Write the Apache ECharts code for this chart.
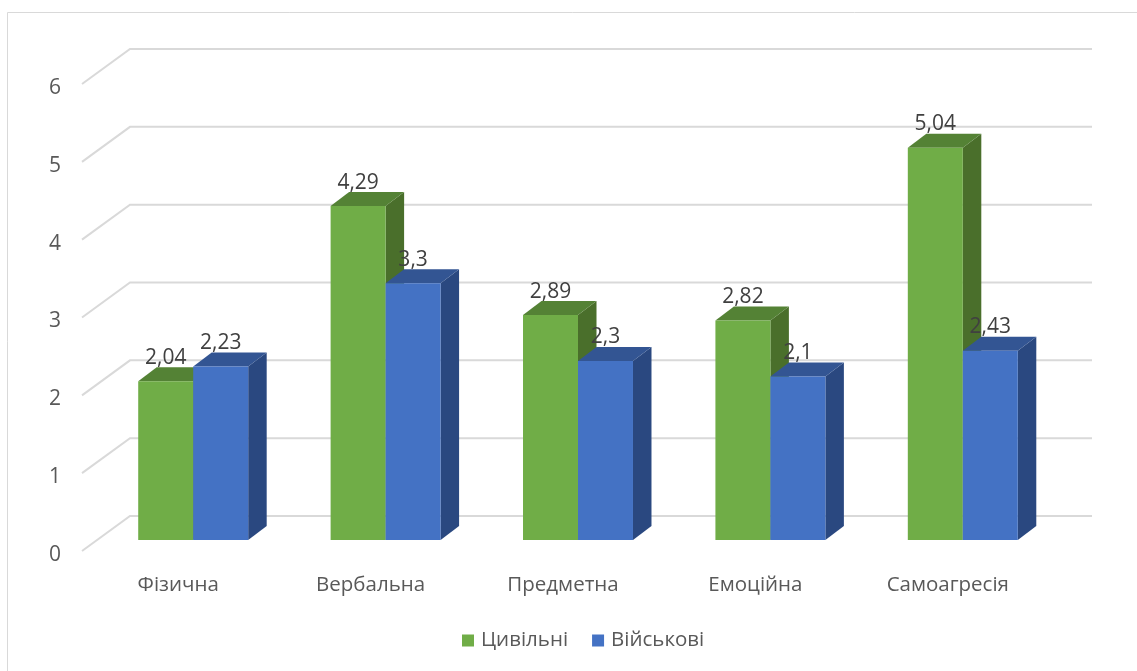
<!DOCTYPE html>
<html>
<head>
<meta charset="utf-8">
<style>html,body{margin:0;padding:0;background:#fff}#chart{width:1137px;height:671px}</style>
<script src="https://cdn.jsdelivr.net/npm/echarts@6/dist/echarts.min.js"></script>
</head>
<body>
<div id="chart"></div>
<script>
// Aggression scale scores for two groups
const categories = ['Фізична', 'Вербальна', 'Предметна', 'Емоційна', 'Самоагресія'];
const civilians = [2.04, 4.29, 2.89, 2.82, 5.04];
const military = [2.23, 3.3, 2.3, 2.1, 2.43];
const yTicks = [0, 1, 2, 3, 4, 5, 6];

const FONT = '"Open Sans", sans-serif';
const WALL = { dx: 48, dy: -35 };      // floor depth of the box
const BAR_PLANE = { dx: 15, dy: -11 }; // bars stand part way into the floor
const BAR_DEPTH = { dx: 18.5, dy: -14 };
const BAR_SHARE = 0.2858;              // bar width as a share of the category band

function gridLine(params, api) {
  const pt = api.coord([0, api.value(1)]);
  const cs = params.coordSys;
  const y = pt[1];
  return {
    type: 'polyline',
    shape: { points: [
      [cs.x, y],
      [cs.x + WALL.dx, y + WALL.dy],
      [cs.x + cs.width + WALL.dx, y + WALL.dy]
    ] },
    style: { stroke: '#d9d9d9', lineWidth: 2, fill: null }
  };
}

function box(side, colors) {
  return function (params, api) {
    const idx = api.value(0);
    const val = api.value(1);
    const top = api.coord([idx, val]);
    const base = api.coord([idx, 0]);
    const w = api.size([1, 0])[0] * BAR_SHARE;
    const x0 = top[0] + BAR_PLANE.dx + (side < 0 ? -w : 0);
    const x1 = x0 + w;
    const yT = top[1] + BAR_PLANE.dy;
    const yB = base[1] + BAR_PLANE.dy;
    const d = BAR_DEPTH;
    return {
      type: 'group',
      children: [
        { type: 'polygon',
          shape: { points: [[x1, yB], [x1 + d.dx, yB + d.dy], [x1 + d.dx, yT + d.dy], [x1, yT]] },
          style: { fill: colors.side } },
        { type: 'polygon',
          shape: { points: [[x0, yT], [x0 + d.dx, yT + d.dy], [x1 + d.dx, yT + d.dy], [x1, yT]] },
          style: { fill: colors.top } },
        { type: 'rect',
          shape: { x: x0, y: yT, width: w, height: yB - yT },
          style: { fill: colors.front } },
        { type: 'text',
          z2: 10,
          style: {
            x: (x0 + x1) / 2,
            y: yT - 23.5,
            text: String(val).replace('.', ','),
            fill: '#404040',
            font: '21px ' + FONT,
            align: 'center',
            verticalAlign: 'middle'
          } }
      ]
    };
  };
}

const green = { front: '#70ad47', top: '#548235', side: '#4a6f2b' };
const blue = { front: '#4472c4', top: '#335593', side: '#2a4880' };

const chart = echarts.init(document.getElementById('chart'), null, { renderer: 'canvas' });
chart.setOption({
  animation: false,
  backgroundColor: '#fff',
  textStyle: { fontFamily: FONT },
  grid: { left: 82, top: 84, width: 962, height: 467 },
  xAxis: {
    type: 'category',
    data: categories,
    axisLine: { show: false },
    axisTick: { show: false },
    axisLabel: { color: '#595959', fontSize: 20.5, margin: 24, fontFamily: FONT }
  },
  yAxis: {
    type: 'value',
    min: 0, max: 6, interval: 1,
    splitLine: { show: false },
    axisLine: { show: false },
    axisTick: { show: false },
    axisLabel: { color: '#595959', fontSize: 21, margin: 21, fontFamily: FONT, verticalAlign: 'top', lineHeight: 8 }
  },
  legend: {
    data: ['Цивільні', 'Військові'],
    left: 462, top: 630, padding: 0,
    icon: 'rect',
    itemWidth: 12, itemHeight: 12, itemGap: 24,
    textStyle: { color: '#595959', fontSize: 20.5, fontFamily: FONT, padding: [0, 0, 0, 2] }
  },
  graphic: [
    { type: 'line', silent: true, shape: { x1: 7.5, y1: 12.5, x2: 1137, y2: 12.5 }, style: { stroke: '#d9d9d9', lineWidth: 1 } },
    { type: 'line', silent: true, shape: { x1: 7.5, y1: 12.5, x2: 7.5, y2: 671 }, style: { stroke: '#d9d9d9', lineWidth: 1 } }
  ],
  series: [
    { type: 'custom', name: 'gridlines', renderItem: gridLine, clip: false, silent: true, z: 1,
      data: yTicks.map(v => [0, v]), encode: { x: 0, y: 1 } },
    { type: 'custom', name: 'Цивільні', renderItem: box(-1, green), clip: false, silent: true, z: 2,
      itemStyle: { color: green.front },
      data: civilians.map((v, i) => [i, v]), encode: { x: 0, y: 1 } },
    { type: 'custom', name: 'Військові', renderItem: box(1, blue), clip: false, silent: true, z: 3,
      itemStyle: { color: blue.front },
      data: military.map((v, i) => [i, v]), encode: { x: 0, y: 1 } }
  ]
});
</script>
</body>
</html>
